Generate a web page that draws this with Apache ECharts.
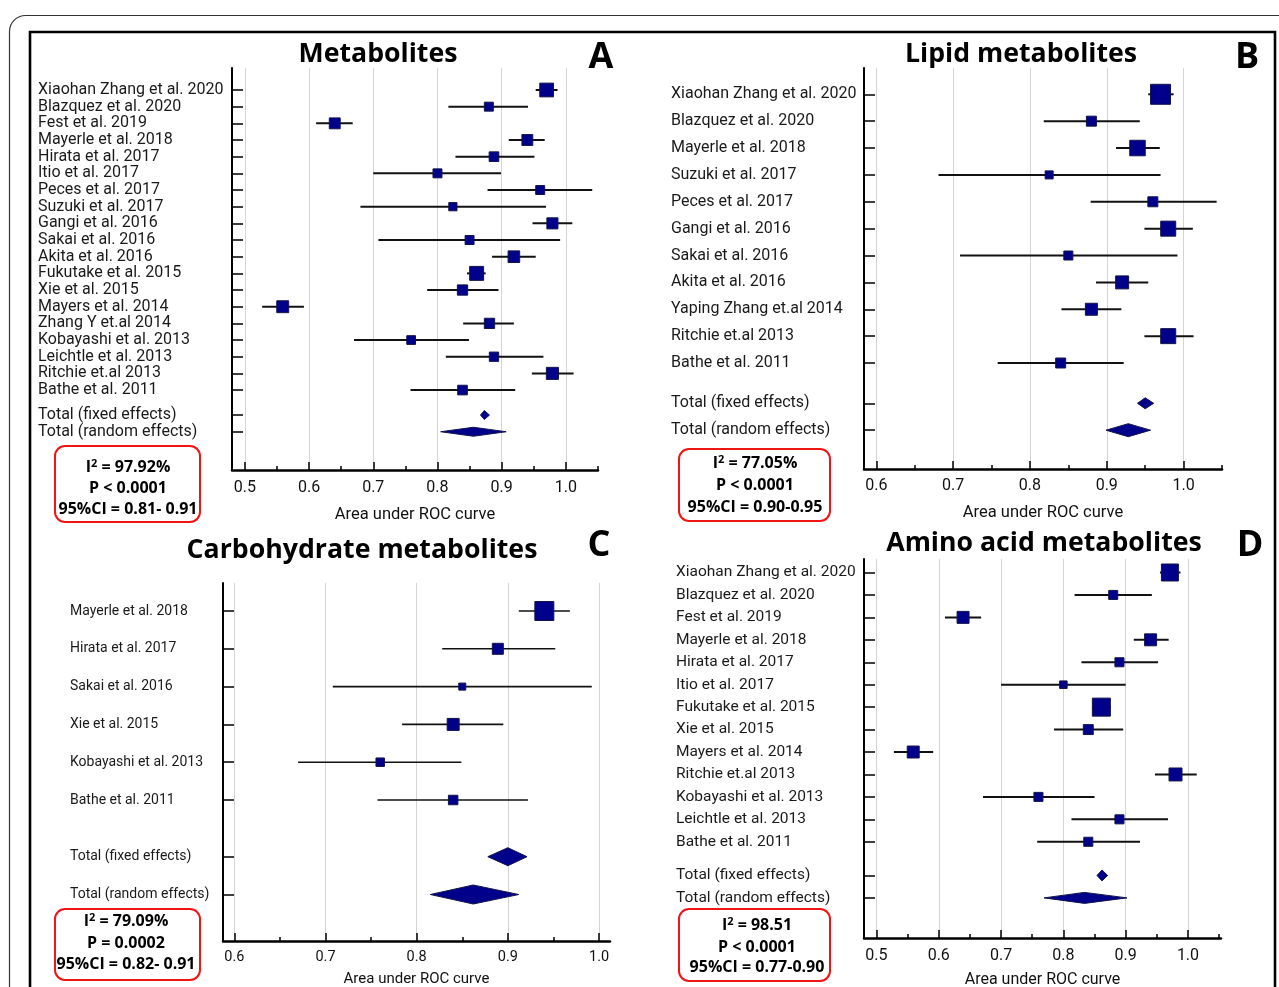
<!DOCTYPE html>
<html><head><meta charset="utf-8">
<script src="https://cdn.jsdelivr.net/npm/echarts@6/dist/echarts.min.js"></script>
<style>html,body{margin:0;padding:0;background:#fff}#c{width:1279px;height:987px}</style>
</head><body><div id="c"></div>
<script>
// ---------- Panel A: Metabolites ----------
const titleA = "Metabolites";
const studiesA = ["Xiaohan Zhang et al. 2020","Blazquez et al. 2020","Fest et al. 2019","Mayerle et al. 2018","Hirata et al. 2017","Itio et al. 2017","Peces et al. 2017","Suzuki et al. 2017","Gangi et al. 2016","Sakai et al. 2016","Akita et al. 2016","Fukutake et al. 2015","Xie et al. 2015","Mayers et al. 2014","Zhang Y et.al 2014","Kobayashi et al. 2013","Leichtle et al. 2013","Ritchie et.al 2013","Bathe et al. 2011"];
const aucA  = [0.970,0.880,0.640,0.940,0.888,0.800,0.960,0.824,0.979,0.850,0.919,0.861,0.839,0.559,0.881,0.759,0.888,0.979,0.839];
const lowA  = [0.953,0.817,0.611,0.911,0.828,0.700,0.878,0.680,0.948,0.708,0.885,0.846,0.784,0.527,0.840,0.670,0.813,0.947,0.758];
const highA = [0.987,0.941,0.668,0.967,0.951,0.899,1.041,0.969,1.010,0.991,0.953,0.875,0.895,0.592,0.919,0.849,0.965,1.012,0.921];
const weightA = [8.9,3.8,5.6,5.6,4.4,3.8,3.8,3.2,5.8,3.8,6.4,9.2,5.0,6.7,5.0,3.6,4.1,6.9,4.4];
const fixedA  = [0.873,0.867,0.881];
const randomA = [0.856,0.805,0.907];
const ticksA = [0.5,0.6,0.7,0.8,0.9,1.0];
const minorA = [0.55,0.65,0.75,0.85,0.95,1.05];
const i2A = "= 97.92%";
const statsA = ["P < 0.0001","95%CI = 0.81- 0.91"];

// ---------- Panel B: Lipid metabolites ----------
const titleB = "Lipid metabolites";
const studiesB = ["Xiaohan Zhang et al. 2020","Blazquez et al. 2020","Mayerle et al. 2018","Suzuki et al. 2017","Peces et al. 2017","Gangi et al. 2016","Sakai et al. 2016","Akita et al. 2016","Yaping Zhang et.al 2014","Ritchie et.al 2013","Bathe et al. 2011"];
const aucB  = [0.970,0.880,0.940,0.825,0.960,0.980,0.850,0.920,0.880,0.980,0.840];
const lowB  = [0.954,0.818,0.912,0.681,0.879,0.949,0.709,0.886,0.841,0.949,0.758];
const highB = [0.987,0.943,0.969,0.970,1.043,1.012,0.992,0.954,0.919,1.013,0.922];
const weightB = [21.6,5.4,13.0,3.5,5.4,12.2,4.4,9.1,7.8,12.2,5.4];
const fixedB  = [0.950,0.940,0.961];
const randomB = [0.928,0.899,0.957];
const ticksB = [0.6,0.7,0.8,0.9,1.0];
const minorB = [0.65,0.75,0.85,0.95,1.05];
const i2B = "= 77.05%";
const statsB = ["P < 0.0001","95%CI = 0.90-0.95"];

// ---------- Panel C: Carbohydrate metabolites ----------
const titleC = "Carbohydrate metabolites";
const studiesC = ["Mayerle et al. 2018","Hirata et al. 2017","Sakai et al. 2016","Xie et al. 2015","Kobayashi et al. 2013","Bathe et al. 2011"];
const aucC  = [0.940,0.889,0.850,0.840,0.760,0.840];
const lowC  = [0.912,0.828,0.708,0.784,0.670,0.757];
const highC = [0.968,0.952,0.992,0.895,0.849,0.922];
const weightC = [43.1,14.5,5.9,17.2,8.6,10.8];
const fixedC  = [0.900,0.878,0.921];
const randomC = [0.862,0.815,0.912];
const ticksC = [0.6,0.7,0.8,0.9,1.0];
const minorC = [0.65,0.75,0.85,0.95];
const i2C = "= 79.09%";
const statsC = ["P = 0.0002","95%CI = 0.82- 0.91"];

// ---------- Panel D: Amino acid metabolites ----------
const titleD = "Amino acid metabolites";
const studiesD = ["Xiaohan Zhang et al. 2020","Blazquez et al. 2020","Fest et al. 2019","Mayerle et al. 2018","Hirata et al. 2017","Itio et al. 2017","Fukutake et al. 2015","Xie et al. 2015","Mayers et al. 2014","Ritchie et.al 2013","Kobayashi et al. 2013","Leichtle et al. 2013","Bathe et al. 2011"];
const aucD  = [0.971,0.880,0.639,0.940,0.890,0.800,0.861,0.840,0.559,0.980,0.760,0.890,0.840];
const lowD  = [0.955,0.818,0.610,0.913,0.829,0.700,0.846,0.785,0.528,0.947,0.671,0.813,0.758];
const highD = [0.988,0.942,0.668,0.969,0.952,0.900,0.876,0.896,0.591,1.014,0.850,0.968,0.923];
const weightD = [16.3,4.6,8.1,8.1,4.6,3.2,18.3,5.6,8.1,9.5,4.6,4.6,4.6];
const fixedD  = [0.862,0.854,0.871];
const randomD = [0.834,0.769,0.902];
const ticksD = [0.5,0.6,0.7,0.8,0.9,1.0];
const minorD = [0.55,0.65,0.75,0.85,0.95,1.05];
const i2D = "= 98.51";
const statsD = ["P < 0.0001","95%CI = 0.77-0.90"];

const totalLabels = ["Total (fixed effects)","Total (random effects)"];
const xName = "Area under ROC curve";

// ---------- layout (pixels / styles) ----------
const panels = [
 {title:titleA, letter:"A", studies:studiesA, auc:aucA, low:lowA, high:highA, weight:weightA, fixed:fixedA, random:randomA, ticks:ticksA, minor:minorA, i2:i2A, stats:statsA,
  L:232, T:68, R:598, B:470, xMin:0.48, xMax:1.05, row0:90, step:16.67, labelX:38, fs:16, tickFs:16, nameFs:16.5, k:4.6, ciW:2, dF:9, dR:9,
  titleX:378, titleY:54, letterX:601, letterY:58, box:[55,446,145,76], statX:128, statY:[467,488,509], margin:10, nameGap:36},
 {title:titleB, letter:"B", studies:studiesB, auc:aucB, low:lowB, high:highB, weight:weightB, fixed:fixedB, random:randomB, ticks:ticksB, minor:minorB, i2:i2B, stats:statsB,
  L:864, T:68, R:1222, B:469, xMin:0.584, xMax:1.05, row0:94.3, step:26.87, labelX:671, fs:16, tickFs:16, nameFs:16.5, k:4.3, ciW:2, dF:11, dR:13,
  titleX:1021, titleY:54, letterX:1247, letterY:58, box:[679,449,151,72], statX:755, statY:[463,485,507], margin:9, nameGap:35},
 {title:titleC, letter:"C", studies:studiesC, auc:aucC, low:lowC, high:highC, weight:weightC, fixed:fixedC, random:randomC, ticks:ticksC, minor:minorC, i2:i2C, stats:statsC,
  L:223, T:583, R:610, B:941, xMin:0.5876, xMax:1.012, row0:611, step:37.8, labelX:70, fs:14, tickFs:14.5, nameFs:15, k:2.89, ciW:1.6, dF:18, dR:19,
  titleX:362, titleY:550, letterX:599, letterY:546, box:[55,909,145,71], statX:126, statY:[921,943,964], margin:9, nameGap:31},
 {title:titleD, letter:"D", studies:studiesD, auc:aucD, low:lowD, high:highD, weight:weightD, fixed:fixedD, random:randomD, ticks:ticksD, minor:minorD, i2:i2D, stats:statsD,
  L:864, T:559, R:1221, B:938, xMin:0.48, xMax:1.053, row0:572.5, step:22.44, labelX:676, fs:15.5, tickFs:16, nameFs:16, k:4.21, ciW:2, dF:11, dR:11,
  titleX:1044, titleY:543, letterX:1250, letterY:546, box:[679,909,151,72], statX:757, statY:[925,947,967], margin:10, nameGap:34}
];

const BOX = '#00008b', EDGE = '#14144a', INK = '#111';
const STAT_FONT = 'bold 16px "Open Sans"';
const grids = [], xAxes = [], yAxes = [], series = [];
const graphics = [
  {type:'rect', shape:{x:9.5, y:15.5, width:1320, height:1020, r:16}, style:{fill:'none', stroke:'#333', lineWidth:1.2}},
  {type:'rect', shape:{x:30, y:32, width:1245, height:1020}, style:{fill:'none', stroke:'#000', lineWidth:2.6}}
];
function txt(x, y, text, font, extra) {
  const st = {text:text, font:font, fill:'#000', align:'center', verticalAlign:'middle', textAlign:'center', textVerticalAlign:'middle'};
  if (extra) Object.assign(st, extra);
  return {type:'text', x:x, y:y, style:st};
}

panels.forEach((p, pi) => {
  const n = p.studies.length;
  const pos = p.studies.map((_, i) => i).concat([n + 0.5, n + 1.5]);
  const names = p.studies.concat(totalLabels);
  grids.push({left:p.L, top:p.T, width:p.R - p.L, height:p.B - p.T, containLabel:false, outerBoundsMode:'none'});
  xAxes.push({type:'value', gridIndex:pi, position:'bottom', min:p.xMin, max:p.xMax,
    axisLine:{show:true, onZero:false, lineStyle:{color:'#000', width:2.5}},
    axisTick:{show:true, inside:true, length:8, customValues:p.ticks, lineStyle:{color:'#000', width:1.5}},
    axisLabel:{show:true, customValues:p.ticks, formatter:v => Number(v).toFixed(1), margin:p.margin, fontFamily:'Roboto', fontSize:p.tickFs, color:INK},
    splitLine:{show:true, lineStyle:{color:'#d4d4d4', width:1}},
    name:xName, nameLocation:'middle', nameGap:p.nameGap, nameTextStyle:{fontFamily:'Roboto', fontSize:p.nameFs, color:INK}});
  xAxes.push({type:'value', gridIndex:pi, position:'bottom', min:p.xMin, max:p.xMax,
    axisLine:{show:false, onZero:false},
    axisTick:{show:true, inside:true, length:4, customValues:p.minor, lineStyle:{color:'#000', width:1.5}},
    axisLabel:{show:false}, splitLine:{show:false}});
  yAxes.push({type:'value', gridIndex:pi, inverse:true, position:'left',
    min:(p.T - p.row0) / p.step, max:(p.B - p.row0) / p.step,
    axisLine:{show:true, onZero:false, lineStyle:{color:'#000', width:2}},
    axisTick:{show:true, inside:true, length:11, customValues:pos, lineStyle:{color:'#000', width:1.5}},
    axisLabel:{show:true, customValues:pos, align:'left', margin:p.L - p.labelX, padding:[3, 0, 0, 0],
      formatter:v => { const i = pos.findIndex(q => Math.abs(q - v) < 1e-6); return i < 0 ? '' : names[i]; },
      fontFamily:'Roboto', fontSize:p.fs, color:'#1a1a1a'},
    splitLine:{show:false}});

  series.push({type:'custom', coordinateSystem:'cartesian2d', xAxisIndex:2 * pi, yAxisIndex:pi, clip:false,
    data:p.studies.map((s, i) => [i, p.auc[i], p.low[i], p.high[i], p.weight[i]]),
    encode:{x:[1, 2, 3], y:0},
    renderItem:(params, api) => {
      const y = api.value(0), e = api.value(1), lo = api.value(2), hi = api.value(3), w = api.value(4);
      const c = api.coord([e, y]), a = api.coord([lo, y]), b = api.coord([hi, y]);
      const s = p.k * Math.sqrt(w);
      return {type:'group', children:[
        {type:'line', shape:{x1:a[0], y1:a[1], x2:b[0], y2:b[1]}, style:{stroke:INK, lineWidth:p.ciW}},
        {type:'rect', shape:{x:c[0] - s / 2, y:c[1] - s / 2, width:s, height:s}, style:{fill:BOX, stroke:EDGE, lineWidth:1}}
      ]};
    }});
  series.push({type:'custom', coordinateSystem:'cartesian2d', xAxisIndex:2 * pi, yAxisIndex:pi, clip:false,
    data:[[n + 0.5].concat(p.fixed), [n + 1.5].concat(p.random)],
    encode:{x:[1, 2, 3], y:0},
    renderItem:(params, api) => {
      const y = api.value(0), e = api.value(1), lo = api.value(2), hi = api.value(3);
      const h = params.dataIndex === 0 ? p.dF : p.dR;
      const c = api.coord([e, y]), a = api.coord([lo, y]), b = api.coord([hi, y]);
      return {type:'polygon', shape:{points:[[a[0], c[1]], [c[0], c[1] - h / 2], [b[0], c[1]], [c[0], c[1] + h / 2]]},
        style:{fill:BOX, stroke:EDGE, lineWidth:1}};
    }});

  graphics.push(txt(p.titleX, p.titleY, p.title, 'bold 26.7px "Open Sans"'));
  graphics.push(txt(p.letterX, p.letterY, p.letter, 'bold 36px "Open Sans"'));
  graphics.push({type:'rect', shape:{x:p.box[0], y:p.box[1], width:p.box[2], height:p.box[3], r:10},
    style:{fill:'none', stroke:'#f01414', lineWidth:2}});
  graphics.push(txt(p.statX, p.statY[0], 'I{s|2} ' + p.i2, STAT_FONT,
    {rich:{s:{fontSize:11, fontWeight:'bold', fontFamily:'Open Sans', fill:'#000', verticalAlign:'top', padding:[0, 0, 6, 0]}}}));
  p.stats.forEach((s, i) => graphics.push(txt(p.statX, p.statY[i + 1], s, STAT_FONT)));
});

const chart = echarts.init(document.getElementById('c'), null, {renderer:'canvas'});
chart.setOption({
  animation:false,
  backgroundColor:'#fff',
  grid:grids, xAxis:xAxes, yAxis:yAxes, series:series,
  graphic:{elements:graphics}
});
</script>
</body></html>
